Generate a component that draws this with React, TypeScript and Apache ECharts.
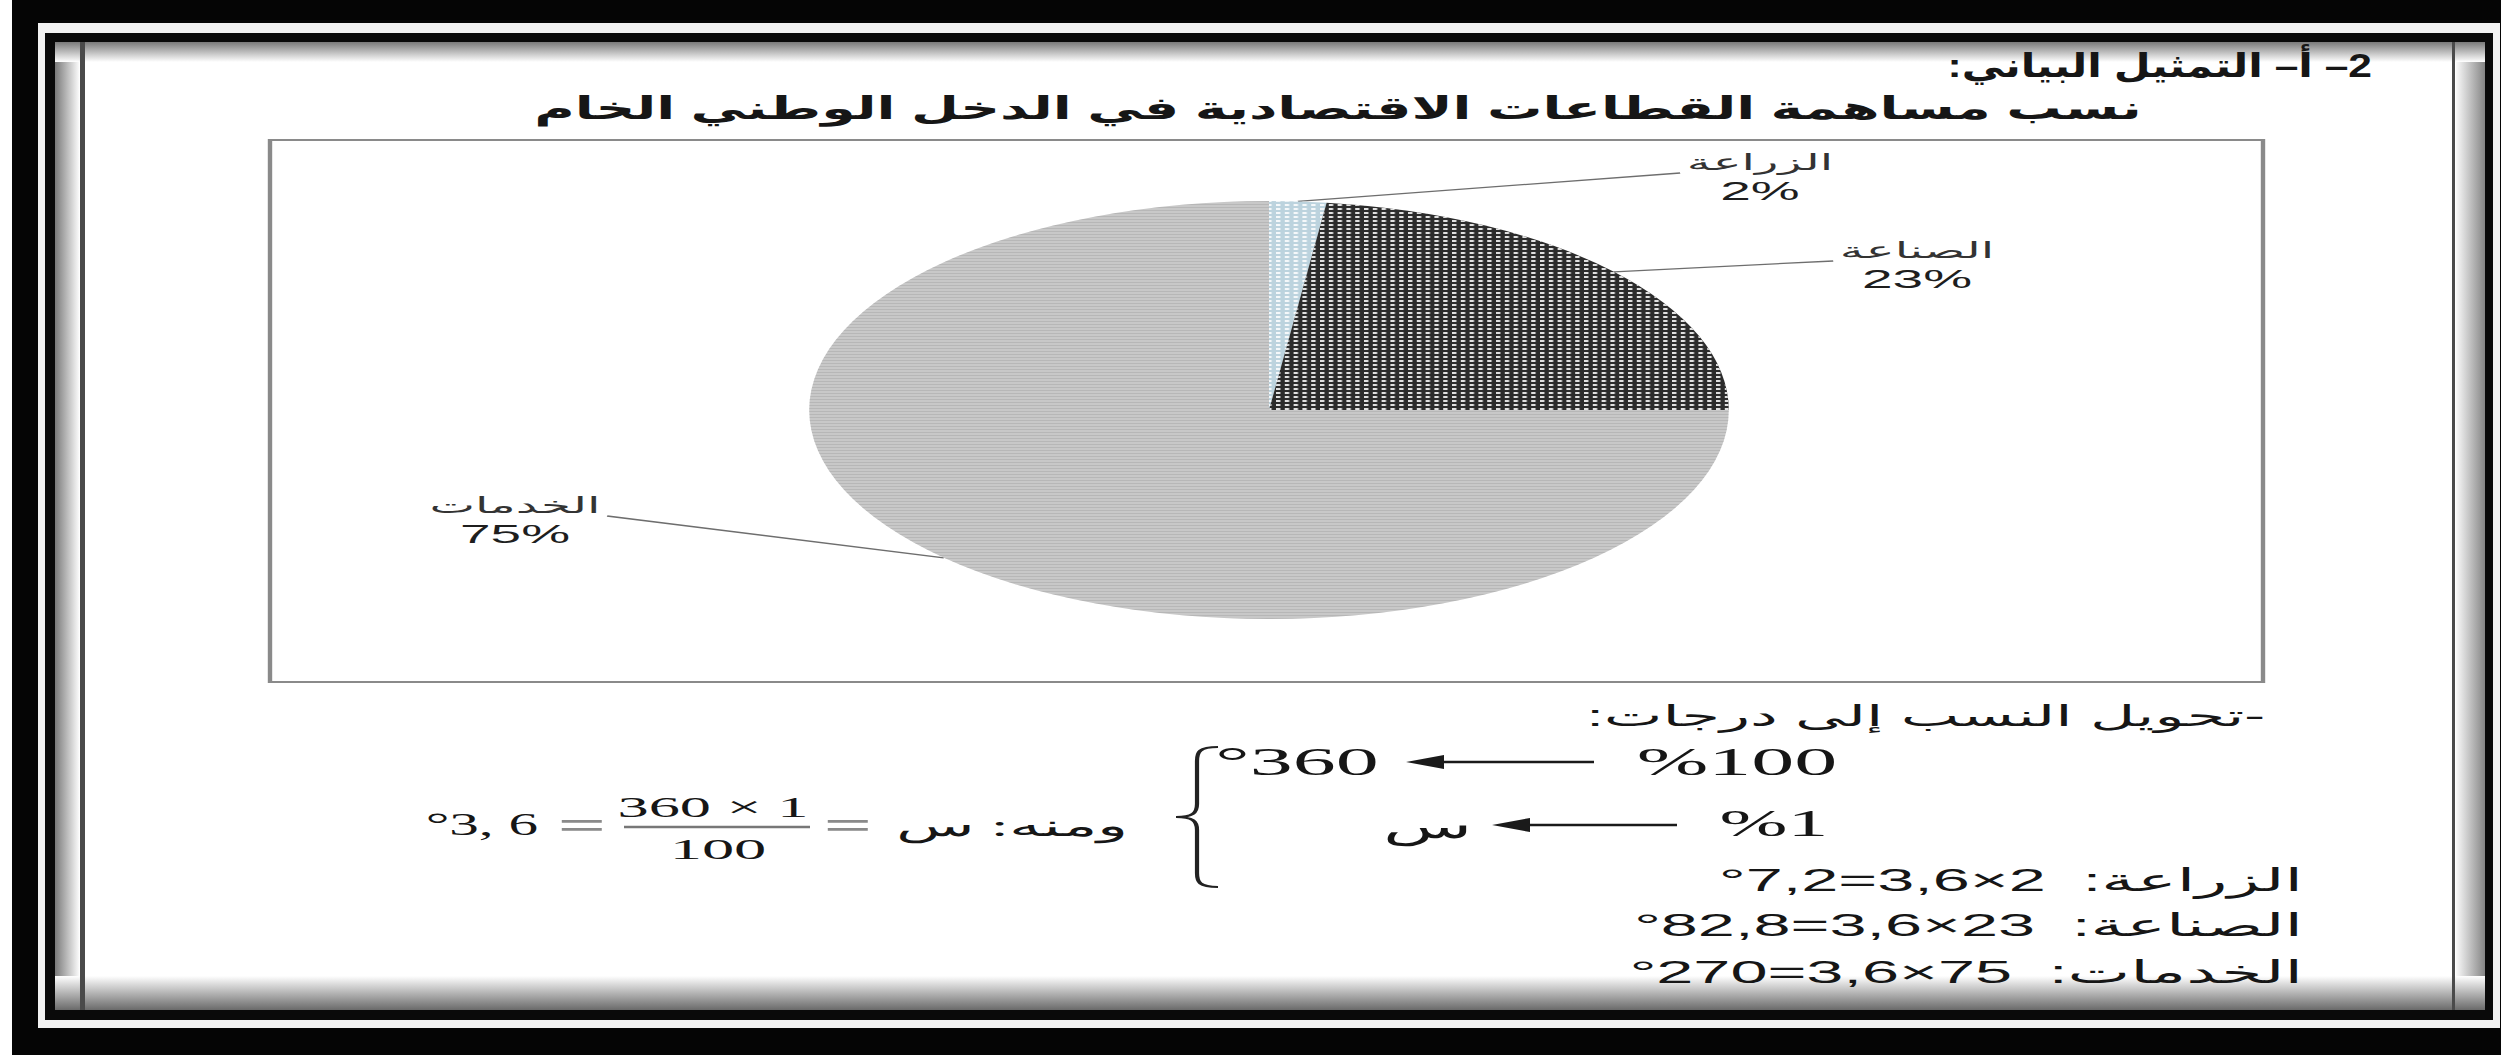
import React, { useEffect, useRef } from 'react';
import * as echarts from 'echarts';

// ---------------- data ----------------
const sectors = ['الزراعة', 'الصناعة', 'الخدمات'];
const shares = [2, 23, 75];
const headerText = '2– أ– التمثيل البياني:';
const chartTitle = 'نسب مساهمة القطاعات الاقتصادية في الدخل الوطني الخام';
const conversionTitle = '-تحويل النسب إلى درجات:';
const ruleFrom = ['%100', '%1'];
const ruleTo = ['°360', 'س'];
const fractionParts = ['ومنه: س', '360 × 1', '100', '°3, 6'];
const degreeLines = ['الزراعة:  2×3,6=7,2°', 'الصناعة:  23×3,6=82,8°', 'الخدمات:  75×3,6=270°'];

// ---------------- layout ----------------
const PAGE_W = 2501;
const PAGE_H = 1055;
const K = 2.2; // horizontal stretch of the original scan
const TF = 2.15 / K; // text width correction
const W0 = Math.ceil(PAGE_W / K);
const X = (v: number) => v / K;

const PIE_CENTER = [X(1269), 410];
const PIE_R = 209;
const LABEL_SPOTS = [[X(1760), 177], [X(1917), 265], [X(515), 520]];

const SANS = '"Liberation Sans", "DejaVu Sans", Arial, sans-serif';
const SERIF = '"Liberation Serif", "DejaVu Serif", "Times New Roman", serif';
const rtl = (s: string) => '\u202B' + s + '\u202C';

const BRACE_D = 'M20 0 C11 0 10 5 10 14 L10 57 C10 66 8 70 0 70 C8 70 10 74 10 83 L10 126 C10 135 11 140 20 140';
echarts.graphic.registerShape('brace', echarts.graphic.extendPath(BRACE_D, {}));

const lg = (x2: number, y2: number, c0: string, c1: string) =>
  new echarts.graphic.LinearGradient(0, 0, x2, y2, [
    { offset: 0, color: c0 },
    { offset: 1, color: c1 },
  ]);

const rect = (x0: number, y0: number, x1: number, y1: number, fill: any) => ({
  type: 'rect',
  silent: true,
  shape: { x: X(x0), y: y0, width: X(x1) - X(x0), height: y1 - y0 },
  style: { fill },
});

const txt = (text: string, rx: number, y: number, size: number, o: any = {}) => ({
  type: 'text',
  silent: true,
  x: X(rx),
  y,
  scaleX: (o.sx || 1) * TF,
  style: {
    text,
    fontSize: size,
    fontFamily: o.family || SANS,
    fontWeight: o.weight || 'normal',
    fill: o.fill || '#161616',
    textAlign: o.align || 'center',
    textVerticalAlign: 'middle',
  },
});

const hline = (xa: number, xb: number, y: number, color: string, w: number) => ({
  type: 'line',
  silent: true,
  shape: { x1: X(xa), y1: y, x2: X(xb), y2: y },
  style: { stroke: color, lineWidth: w },
});

const arrowHead = (tip: number, y: number) => ({
  type: 'polygon',
  silent: true,
  shape: { points: [[X(tip), y], [X(tip + 38), y - 7], [X(tip + 38), y + 7]] },
  style: { fill: '#1a1a1a' },
});

const sliceStyles = [
  {
    color: '#bcd3de',
    decal: { symbol: 'rect', symbolSize: 1, color: 'rgba(255,255,255,0.85)', dashArrayX: [2, 2], dashArrayY: [2, 2] },
  },
  {
    color: '#2c2c2c',
    decal: { symbol: 'rect', symbolSize: 1, color: 'rgba(235,235,235,0.95)', dashArrayX: [2, 2], dashArrayY: [2, 2] },
  },
  {
    color: '#c8c8c8',
    decal: { symbol: 'rect', symbolSize: 1, color: 'rgba(150,150,150,0.35)', dashArrayX: [1, 0], dashArrayY: [1, 2] },
  },
];

function buildOption(): any {
  const total = shares.reduce((a, b) => a + b, 0);
  const frame = [
    rect(0, 0, PAGE_W, PAGE_H, '#ffffff'),
    rect(12, 0, PAGE_W, PAGE_H, '#050505'),
    rect(38, 23, 2500, 1028, '#f2f2f2'),
    rect(45, 33, 2493, 1020, '#0a0a0a'),
    rect(55, 42, 2485, 1010, '#ffffff'),
    rect(55, 42, 79, 1010, lg(1, 0, '#7a7a7a', '#fafafa')),
    rect(2456, 42, 2485, 1010, lg(1, 0, '#fafafa', '#858585')),
    rect(55, 42, 2485, 62, lg(0, 1, '#7a7a7a', '#ffffff')),
    rect(55, 976, 2485, 1010, lg(0, 1, '#ffffff', '#6a6a6a')),
    rect(80, 42, 85, 1010, '#4a4a4a'),
    rect(2452, 42, 2455, 1010, '#4a4a4a'),
    {
      type: 'rect',
      silent: true,
      shape: { x: X(270), y: 140, width: X(2263) - X(270), height: 542 },
      style: { fill: 'none', stroke: '#8a8a8a', lineWidth: 2 },
    },
  ];

  const texts = [
    txt(rtl(headerText), 2372, 66, 33, { weight: 'bold', align: 'right', sx: 0.6 }),
    txt(chartTitle, 1338, 108, 31, { weight: 'bold', sx: 0.83 }),
    txt(rtl(conversionTitle), 2265, 716, 29, { align: 'right' }),
    txt(ruleFrom[0], 1737, 762, 40, { family: SERIF }),
    txt(ruleTo[0], 1297, 762, 40, { family: SERIF }),
    txt(ruleFrom[1], 1774, 823, 38, { family: SERIF }),
    txt(ruleTo[1], 1428, 826, 34, { family: SERIF }),
    hline(1594, 1440, 762, '#1a1a1a', 2.5),
    arrowHead(1406, 762),
    hline(1677, 1528, 825, '#1a1a1a', 2.5),
    arrowHead(1492, 825),
    {
      type: 'brace',
      silent: true,
      x: X(1176),
      y: 747,
      scaleX: (X(1218) - X(1176)) / 20,
      scaleY: 1,
      style: { fill: 'none', stroke: '#222222', lineWidth: 2 },
    },
    ...degreeLines.map((s, i) => txt(rtl(s), 2303, [880, 925, 972][i], 31, { align: 'right' })),
    txt(rtl(fractionParts[0]), 1128, 826, 30, { family: SERIF, align: 'right' }),
    txt('=', 848, 826, 40, { family: SERIF, weight: 'bold', fill: '#8a8a8a' }),
    txt(fractionParts[1], 713, 807, 29, { family: SERIF }),
    hline(624, 810, 827, '#777777', 2.5),
    txt(fractionParts[2], 718, 849, 30, { family: SERIF }),
    txt('=', 582, 826, 40, { family: SERIF, weight: 'bold', fill: '#8a8a8a' }),
    txt(fractionParts[3], 538, 824, 32, { family: SERIF, align: 'right', sx: 0.86 }),
  ];

  return {
    animation: false,
    backgroundColor: '#ffffff',
    graphic: { elements: [...frame, ...texts] },
    series: [
      {
        type: 'pie',
        center: PIE_CENTER,
        radius: PIE_R,
        startAngle: 90,
        clockwise: true,
        avoidLabelOverlap: false,
        silent: true,
        emphasis: { disabled: true },
        itemStyle: { borderWidth: 0 },
        data: sectors.map((name, i) => ({ name, value: shares[i], itemStyle: sliceStyles[i] })),
        label: {
          show: true,
          position: 'outside',
          formatter: (p: any) => `{n|${p.name}}\n{p|${p.value}%}`,
          rich: {
            n: { fontSize: 22, color: '#333333', fontFamily: SANS, lineHeight: 28, align: 'center' },
            p: { fontSize: 25, color: '#1e1e1e', fontFamily: SANS, lineHeight: 30, align: 'center' },
          },
        },
        labelLine: { show: true, length: 10, length2: 10, lineStyle: { color: '#6e6e6e', width: 1.3 } },
        labelLayout: (p: any) => {
          const i = p.dataIndex;
          let before = 0;
          for (let j = 0; j < i; j++) before += shares[j];
          const mid = ((90 - (360 * (before + shares[i] / 2)) / total) * Math.PI) / 180;
          const sx = PIE_CENTER[0] + PIE_R * Math.cos(mid);
          const sy = PIE_CENTER[1] - PIE_R * Math.sin(mid);
          const [lx, ly] = LABEL_SPOTS[i];
          const half = p.labelRect.width / 2 + 3;
          const ex = lx < PIE_CENTER[0] ? lx + half : lx - half;
          const ey = ly - 4;
          return {
            x: lx,
            y: ly,
            align: 'center',
            verticalAlign: 'middle',
            labelLinePoints: [[sx, sy], [ex, ey], [ex, ey]],
          };
        },
      },
    ],
  };
}

export default function App() {
  const ref = useRef<HTMLDivElement>(null);
  useEffect(() => {
    if (!ref.current) return;
    const chart = echarts.init(ref.current, null, { renderer: 'svg' });
    chart.setOption(buildOption());
    return () => chart.dispose();
  }, []);
  return (
    <div
      ref={ref}
      style={{
        position: 'fixed',
        left: 0,
        top: 0,
        width: W0,
        height: PAGE_H,
        transform: `scaleX(${K})`,
        transformOrigin: '0 0',
      }}
    />
  );
}
